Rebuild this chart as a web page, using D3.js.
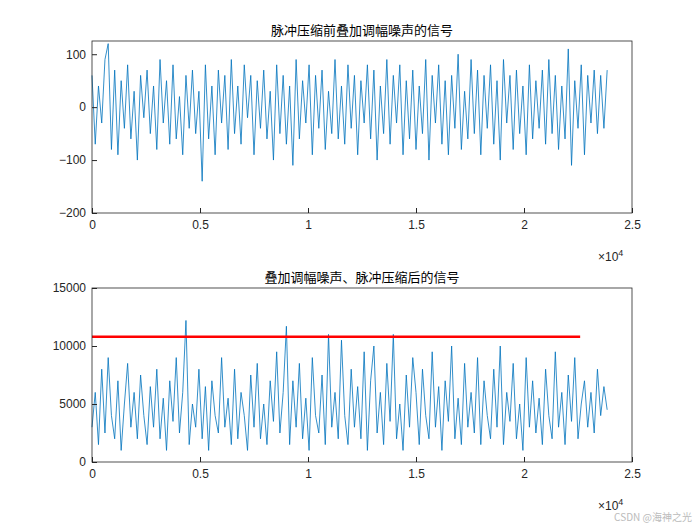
<!DOCTYPE html>
<html><head><meta charset="utf-8">
<script src="https://cdn.jsdelivr.net/npm/d3@7"></script>
<style>body{margin:0;background:#fff}svg{font-family:"Liberation Sans",Arial,sans-serif}</style>
</head><body>
<script>
// sample spacing (samples per value)
var step = 150;
var topTitle = "脉冲压缩前叠加调幅噪声的信号";
var botTitle = "叠加调幅噪声、脉冲压缩后的信号";
var xTicks = [0, 5000, 10000, 15000, 20000, 25000];
var xTickLabels = ["0", "0.5", "1", "1.5", "2", "2.5"];
var topYTicks = [-200, -100, 0, 100];
var botYTicks = [0, 5000, 10000, 15000];
var thresholdLevel = 10800;
var thresholdEnd = 22600;

var topValues = [
 60,-70,40,-30,90,120,-80,70,-90,50,-40,80,-60,30,-100,60,-20,70,-50,40,
 -80,90,-30,50,-70,80,-60,20,-90,60,-40,70,-50,30,-140,80,-60,40,-90,70,
 -30,60,-80,90,-50,40,-70,80,-20,60,-90,50,-40,70,-60,30,-100,80,-50,60,
 -70,40,-110,90,-60,50,-30,80,-90,60,-40,70,-80,30,-50,90,-60,40,-70,80,
 -40,60,-90,50,-30,80,-60,70,-100,40,-50,90,-70,60,-30,80,-90,50,-60,70,
 -80,40,-50,90,-100,60,-30,80,-70,50,-90,60,-40,100,-80,30,-60,90,-50,70,
 -90,60,-40,80,-70,50,-100,90,-30,60,-80,70,-50,40,-90,80,-60,50,-40,70,
 -70,90,-50,60,-80,40,-60,110,-110,50,-40,80,-90,60,-30,70,-50,60,-40,70
];
var botValues = [
 3000,6000,1500,8000,2500,9000,4000,2000,7000,1000,5000,8500,3000,6000,2000,7500,4000,1500,6500,3000,
 8000,2000,5500,1000,7000,3500,9000,2500,6000,12200,1500,5000,3000,8000,2000,6500,1000,7000,4000,2500,
 9000,3000,5500,1500,8000,2000,6000,4000,1000,7500,3000,8500,2000,5000,1500,7000,3500,9500,2500,6000,
 11700,1500,7000,3000,8500,2000,5500,1000,9000,4000,2500,7500,1500,11000,3000,6000,2000,10500,4000,1500,
 8000,3000,6500,2000,9500,1000,7000,10000,2500,6000,1500,8500,3500,11000,2000,5000,1000,7500,3000,9000,
 6000,1500,8000,4000,2000,9500,3000,6500,1000,7000,3500,10000,2000,5500,1500,8500,3000,6000,2500,9000,
 1500,7000,4000,2000,8000,3000,10000,1500,6000,3500,8500,2000,5000,1000,9000,3000,7000,2500,5500,1500,
 8000,4000,2000,9500,3000,6000,1500,7500,3500,9000,2000,5000,7000,3000,6000,2500,8000,4000,6500,4500
];

var svg = d3.select("body").append("svg").attr("width", 700).attr("height", 525);

function panel(top, bottom, yDomain, yTicks, values, title, threshold){
	var x = d3.scaleLinear().domain([0, 25000]).range([92, 632]);
	var y = d3.scaleLinear().domain(yDomain).range([bottom, top]);
	var g = svg.append("g");
	var line = d3.line().x(function(d, i){ return x(i * step); }).y(function(d){ return y(d); });
	g.append("path").datum(values).attr("d", line).attr("fill", "none")
		.attr("stroke", "#0072BD").attr("stroke-width", 0.8);
	if(threshold){
		g.append("line").attr("x1", x(0)).attr("x2", x(thresholdEnd))
			.attr("y1", y(thresholdLevel)).attr("y2", y(thresholdLevel))
			.attr("stroke", "#ff0000").attr("stroke-width", 2.5);
	}
	var xa = g.append("g").attr("transform", "translate(0," + bottom + ")")
		.call(d3.axisBottom(x).tickValues(xTicks).tickSizeInner(-5).tickSizeOuter(0)
			.tickFormat(function(d, i){ return xTickLabels[i]; }));
	var ya = g.append("g").attr("transform", "translate(92,0)")
		.call(d3.axisLeft(y).tickValues(yTicks).tickSizeInner(-5).tickSizeOuter(0)
			.tickFormat(d3.format("d")));
	[xa, ya].forEach(function(a){
		a.select(".domain").remove();
		a.selectAll("line").attr("stroke", "#262626");
		a.selectAll("text").attr("font-size", 12).attr("fill", "#262626");
	});
	xa.selectAll("text").attr("dy", "1.1em");
	ya.selectAll("text").attr("x", -6);
	g.append("rect").attr("x", 92).attr("y", top).attr("width", 540).attr("height", bottom - top)
		.attr("fill", "none").attr("stroke", "#262626").attr("stroke-width", 0.8);
	g.append("text").attr("x", 362).attr("y", top - 6).attr("text-anchor", "middle")
		.attr("font-family", "Noto Sans CJK SC").attr("font-size", 13).attr("fill", "#000")
		.text(title);
	var ex = g.append("text").attr("x", 598).attr("y", bottom + 48).attr("font-size", 12).attr("fill", "#262626");
	ex.append("tspan").text("×10");
	ex.append("tspan").attr("dy", -5).attr("font-size", 9).text("4");
}

panel(41, 213, [-200, 125], topYTicks, topValues, topTitle, false);
panel(288, 462, [0, 15000], botYTicks, botValues, botTitle, true);

svg.append("text").attr("x", 692).attr("y", 521).attr("text-anchor", "end")
	.attr("font-family", "Noto Sans CJK SC").attr("font-size", 10).attr("fill", "#bbb")
	.text("CSDN @海神之光");
</script>
</body></html>
